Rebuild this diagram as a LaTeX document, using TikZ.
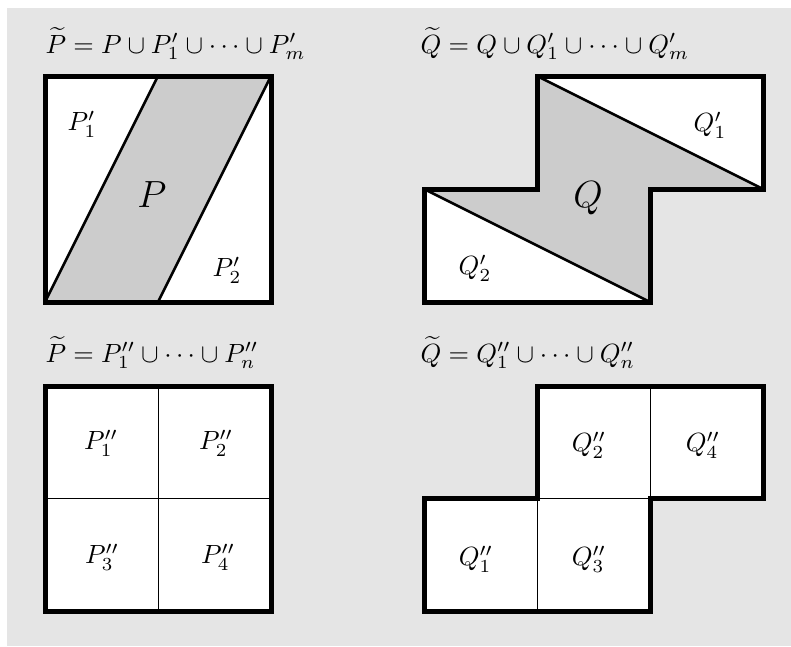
\documentclass[tikz,border=0pt]{standalone}
\usepackage{amsmath}
\begin{document}
\begin{tikzpicture}[x=0.38pt,y=-0.38pt,
  bgfill/.style={fill=gray!20,draw=none},
  region/.style={fill=gray!40,draw=none},
  outline/.style={draw=black,line width=1.9pt,line join=miter},
  cut/.style={draw=black,line width=0.95pt},
  grid/.style={draw=black,line width=0.38pt},
  lbl/.style={inner sep=0pt},
  title/.style={inner sep=0pt,anchor=base west}]
\useasboundingbox (0,0) rectangle (791,646);
\fill[bgfill] (7,8) rectangle (791,646);

% ---- top left: P tilde = P u P'_1 u ... ----
\fill[white] (45,76) rectangle (271,302);
\fill[region] (45,302) -- (158,76) -- (271,76) -- (158,302) -- cycle;
\draw[cut] (45,302) -- (158,76);
\draw[cut] (271,76) -- (158,302);
\draw[outline] (45,76) rectangle (271,302);
\node[title] (tP1) at (45,53) {$\widetilde{P} = P \cup P'_1 \cup \cdots \cup P'_m$};
\node[lbl] (p1) at (82,124) {$P'_1$};
\node[lbl] (p) at (152,195) {\Large $P$};
\node[lbl] (p2) at (227,270) {$P'_2$};

% ---- top right: Q tilde = Q u Q'_1 u ... ----
\fill[white] (537,76) -- (763,76) -- (763,189) -- (650,189) -- (650,302)
  -- (424,302) -- (424,189) -- (537,189) -- cycle;
\fill[region] (537,76) -- (763,189) -- (650,189) -- (650,302)
  -- (424,189) -- (537,189) -- cycle;
\draw[cut] (537,76) -- (763,189);
\draw[cut] (424,189) -- (650,302);
\draw[outline] (537,76) -- (763,76) -- (763,189) -- (650,189) -- (650,302)
  -- (424,302) -- (424,189) -- (537,189) -- cycle;
\node[title] (tQ1) at (420,53) {$\widetilde{Q} = Q \cup Q'_1 \cup \cdots \cup Q'_m$};
\node[lbl] (q1) at (710,125) {$Q'_1$};
\node[lbl] (q) at (588,198) {\Large $Q$};
\node[lbl] (q2) at (475,268) {$Q'_2$};

% ---- bottom left: P tilde = P''_1 u ... u P''_n ----
\fill[white] (45,386) rectangle (271,611);
\draw[grid] (158,386) -- (158,611);
\draw[grid] (45,498.5) -- (271,498.5);
\draw[outline] (45,386) rectangle (271,611);
\node[title] (tP2) at (45,362) {$\widetilde{P} = P''_1 \cup \cdots \cup P''_n$};
\node[lbl] (pp1) at (101,443) {$P''_1$};
\node[lbl] (pp2) at (216,443) {$P''_2$};
\node[lbl] (pp3) at (102,557) {$P''_3$};
\node[lbl] (pp4) at (218,557) {$P''_4$};

% ---- bottom right: Q tilde = Q''_1 u ... u Q''_n ----
\fill[white] (537,386) -- (763,386) -- (763,498.5) -- (650,498.5) -- (650,611)
  -- (424,611) -- (424,498.5) -- (537,498.5) -- cycle;
\draw[grid] (650,386) -- (650,498.5);
\draw[grid] (537,498.5) -- (537,611);
\draw[grid] (537,498.5) -- (650,498.5);
\draw[outline] (537,386) -- (763,386) -- (763,498.5) -- (650,498.5) -- (650,611)
  -- (424,611) -- (424,498.5) -- (537,498.5) -- cycle;
\node[title] (tQ2) at (420,362) {$\widetilde{Q} = Q''_1 \cup \cdots \cup Q''_n$};
\node[lbl] (qq2) at (589,445) {$Q''_2$};
\node[lbl] (qq4) at (703,445) {$Q''_4$};
\node[lbl] (qq1) at (476,559) {$Q''_1$};
\node[lbl] (qq3) at (589,559) {$Q''_3$};
\end{tikzpicture}
\end{document}
